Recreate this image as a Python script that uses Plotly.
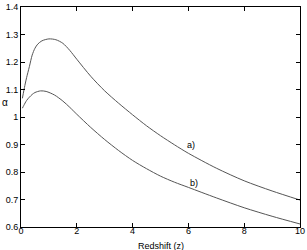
import plotly.graph_objects as go

z_a = [0.05, 0.1, 0.15, 0.2, 0.3, 0.4, 0.5, 0.6, 0.75, 1.0, 1.25, 1.5, 1.75, 2.0, 2.5, 3.0, 3.5, 4.0, 4.5, 5.0, 5.5, 6.0, 7.0, 8.0, 9.0, 10.0]
alpha_a = [1.068, 1.095, 1.12, 1.143, 1.183, 1.225, 1.25, 1.265, 1.277, 1.284, 1.281, 1.268, 1.242, 1.21, 1.148, 1.095, 1.050, 1.008, 0.968, 0.932, 0.899, 0.868, 0.814, 0.768, 0.731, 0.698]

z_b = [0.05, 0.1, 0.2, 0.3, 0.4, 0.5, 0.7, 0.9, 1.2, 1.5, 1.75, 2.0, 2.5, 3.0, 3.5, 4.0, 4.5, 5.0, 5.5, 6.0, 7.0, 8.0, 9.0, 10.0]
alpha_b = [1.032, 1.042, 1.06, 1.072, 1.082, 1.089, 1.095, 1.093, 1.08, 1.058, 1.035, 1.01, 0.962, 0.918, 0.878, 0.842, 0.812, 0.785, 0.763, 0.744, 0.706, 0.670, 0.639, 0.611]

x_ticks = [0, 2, 4, 6, 8, 10]
x_tick_labels = ["0", "2", "4", "6", "8", "10"]
y_ticks = [0.6, 0.7, 0.8, 0.9, 1.0, 1.1, 1.2, 1.3, 1.4]
y_tick_labels = ["0.6", "0.7", "0.8", "0.9", "1", "1.1", "1.2", "1.3", "1.4"]

curve_labels = ["a)", "b)"]
label_pos = [(6.1, 0.898), (6.2, 0.76)]

FAM = "Liberation Sans, Arial, sans-serif"
font = dict(family=FAM, size=9, color="black")
line_style = dict(color="#555555", width=1, shape="spline", smoothing=0.8)

fig = go.Figure()
fig.add_trace(go.Scatter(x=z_a, y=alpha_a, mode="lines", line=line_style, showlegend=False))
fig.add_trace(go.Scatter(x=z_b, y=alpha_b, mode="lines", line=line_style, showlegend=False))

for txt, (xx, yy) in zip(curve_labels, label_pos):
    fig.add_annotation(x=xx, y=yy, text=txt, showarrow=False, font=font, xanchor="center", yanchor="middle")

fig.add_annotation(xref="paper", yref="paper", x=-0.057, y=0.568, text="α", showarrow=False,
                   font=dict(family=FAM, size=10, color="black"), xanchor="center", yanchor="middle")
fig.add_annotation(xref="paper", yref="paper", x=0.5, y=-0.055, text="Redshift (z)", showarrow=False,
                   font=dict(family=FAM, size=9, color="black"), xanchor="center", yanchor="top")

axis_common = dict(showgrid=False, zeroline=False, showline=True, linecolor="black", linewidth=1,
                   mirror="allticks", ticks="inside", ticklen=4, tickcolor="black", tickfont=font,
                   automargin=False)

fig.update_xaxes(range=[0, 10], tickvals=x_ticks, ticktext=x_tick_labels, ticklabelstandoff=-5, **axis_common)
fig.update_yaxes(range=[0.6, 1.4], tickvals=y_ticks, ticktext=y_tick_labels, **axis_common)

fig.update_layout(width=307, height=250, margin=dict(l=21, r=7, t=7, b=23),
                  plot_bgcolor="white", paper_bgcolor="white", font=font)

fig.write_html("out.html", config={"displayModeBar": False},
               post_script="document.body.style.margin='0';document.body.style.padding='0';")
